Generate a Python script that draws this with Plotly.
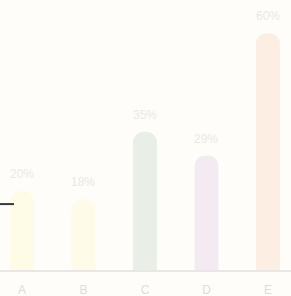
import plotly.graph_objects as go

categories = ["A", "B", "C", "D", "E"]
values = [20, 18, 35, 29, 60]
labels = ["20%", "18%", "35%", "29%", "60%"]
colors = ["#fefbe6", "#fefbe8", "#e9efe6", "#f3ebf1", "#fdeee3"]
ref_level = 16.7

fig = go.Figure()
fig.add_trace(go.Bar(
    x=categories, y=values, marker=dict(color=colors, line=dict(width=0)),
    width=0.39, hoverinfo="skip",
))
for c, v, t in zip(categories, values, labels):
    fig.add_annotation(x=c, y=v, text=t, showarrow=False, yshift=17,
                       font=dict(family="Liberation Sans, Arial", size=12, color="#ebe8e4"))

fig.add_shape(type="line", xref="paper", yref="y", x0=0, x1=14/291,
              y0=ref_level, y1=ref_level, line=dict(color="#3a3a3a", width=2))

fig.update_layout(
    width=291, height=296,
    margin=dict(l=0, r=0, t=0, b=26),
    paper_bgcolor="#fffdf9", plot_bgcolor="#fffdf9",
    barcornerradius="50%",
    showlegend=False,
    xaxis=dict(range=[-0.358, 4.375], showgrid=False, zeroline=False,
               showline=True, linecolor="#e9e7e5", linewidth=2,
               ticks="", ticklabelstandoff=8,
               tickfont=dict(family="Liberation Sans, Arial", size=12, color="#dedcda")),
    yaxis=dict(range=[0, 68.4], visible=False),
)
fig.write_html("out.html", config={"displayModeBar": False},
               post_script="document.body.style.margin='0';document.body.style.background='#fffdf9';")
